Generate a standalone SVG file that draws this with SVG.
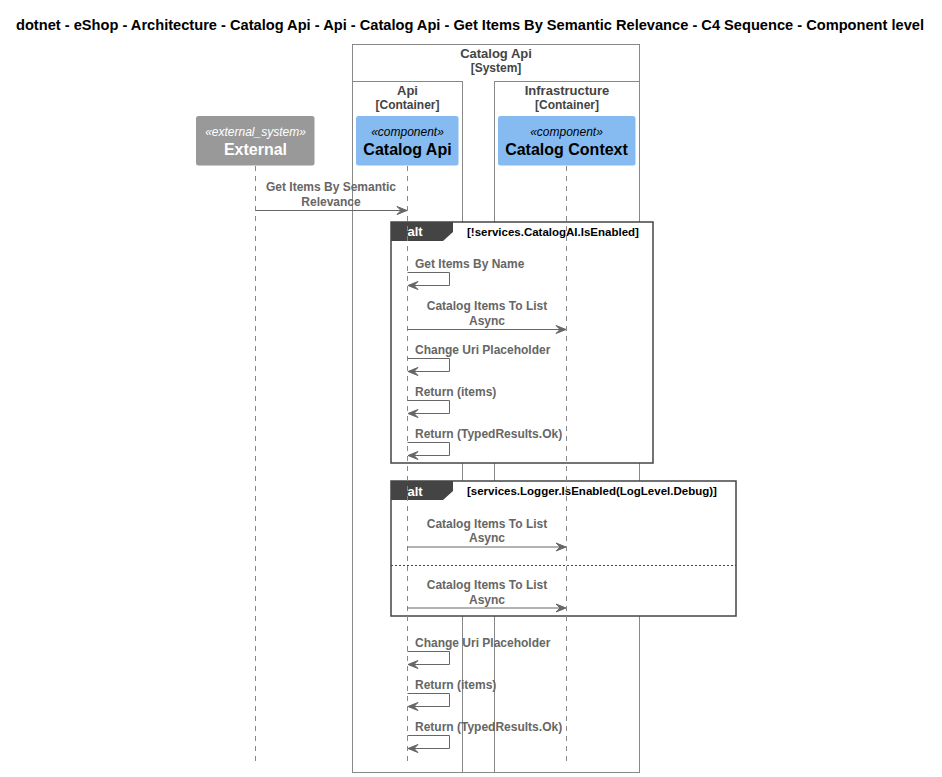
<svg xmlns="http://www.w3.org/2000/svg" width="942" height="777" viewBox="0 0 942 777">
  <style>
    text { font-family: "Liberation Sans", Arial, sans-serif; }
    .title { font-size: 14.5px; font-weight: bold; fill: #000; }
    .bnd { fill: none; stroke: #888; stroke-width: 1; }
    .bname { font-size: 13px; font-weight: bold; fill: #444; text-anchor: middle; }
    .btype { font-size: 12px; font-weight: bold; fill: #444; text-anchor: middle; }
    .stereo { font-size: 12px; font-style: italic; text-anchor: middle; }
    .pname { font-size: 16px; font-weight: bold; text-anchor: middle; }
    .life { stroke: #888; stroke-width: 1; stroke-dasharray: 5,5; fill: none; }
    .frame { fill: #fff; stroke: #444; stroke-width: 1.5; }
    .tab { fill: #444; }
    .alt { font-size: 13px; font-weight: bold; fill: #fff; }
    .cond { font-size: 11.5px; font-weight: bold; fill: #000; }
    .msg { stroke: #666; stroke-width: 1; fill: none; }
    .head { fill: #666; stroke: #666; stroke-width: 1; }
    .lbl { font-size: 12px; font-weight: bold; fill: #666; }
    .mid { text-anchor: middle; }
  </style>

  <text class="title" x="16" y="30" textLength="908" lengthAdjust="spacingAndGlyphs">dotnet - eShop - Architecture - Catalog Api - Api - Catalog Api - Get Items By Semantic Relevance - C4 Sequence - Component level</text>

  <!-- boundaries -->
  <g id="boundary-catalog-api">
    <rect class="bnd" x="352.5" y="44.5" width="287" height="728"/>
    <text class="bname" x="496" y="58">Catalog Api</text>
    <text class="btype" x="496" y="72">[System]</text>
  </g>
  <g id="boundary-api">
    <rect class="bnd" x="352.5" y="81.5" width="110" height="691"/>
    <text class="bname" x="407.5" y="95">Api</text>
    <text class="btype" x="407.5" y="109">[Container]</text>
  </g>
  <g id="boundary-infrastructure">
    <rect class="bnd" x="494.5" y="81.5" width="145" height="691"/>
    <text class="bname" x="567" y="95">Infrastructure</text>
    <text class="btype" x="567" y="109">[Container]</text>
  </g>

  <!-- combined fragments -->
  <g id="alt-catalog-ai">
    <rect class="frame" x="391" y="222" width="262" height="241"/>
    <polygon class="tab" points="391,222 453,222 453,232 443,241 391,241"/>
    <text class="alt" x="407.5" y="236">alt</text>
    <text class="cond" x="467" y="235.5">[!services.CatalogAI.IsEnabled]</text>
  </g>
  <g id="alt-logger-debug">
    <rect class="frame" x="391" y="481" width="345" height="135"/>
    <polygon class="tab" points="391,481 453,481 453,491 443,500 391,500"/>
    <text class="alt" x="407.5" y="496">alt</text>
    <text class="cond" x="467" y="495">[services.Logger.IsEnabled(LogLevel.Debug)]</text>
    <line x1="391" y1="565.5" x2="736" y2="565.5" stroke="#444" stroke-width="1" stroke-dasharray="2,2"/>
  </g>

  <!-- participants -->
  <g id="external">
    <line class="life" x1="255.5" y1="166" x2="255.5" y2="762"/>
    <rect x="196" y="116" width="118.5" height="49.5" rx="2.5" fill="#999999"/>
    <text class="stereo" x="255.5" y="136" fill="#fff">«external_system»</text>
    <text class="pname" x="255.5" y="155" fill="#fff">External</text>
  </g>
  <g id="catalog-api">
    <line class="life" x1="407.5" y1="166" x2="407.5" y2="762"/>
    <rect x="356" y="116" width="102.5" height="49.5" rx="2.5" fill="#85BBF0"/>
    <text class="stereo" x="407.5" y="136" fill="#000">«component»</text>
    <text class="pname" x="407.5" y="155" fill="#000">Catalog Api</text>
  </g>
  <g id="catalog-context">
    <line class="life" x1="566.5" y1="166" x2="566.5" y2="762"/>
    <rect x="498" y="116" width="137.5" height="49.5" rx="2.5" fill="#85BBF0"/>
    <text class="stereo" x="566.5" y="136" fill="#000">«component»</text>
    <text class="pname" x="566.5" y="155" fill="#000">Catalog Context</text>
  </g>

  <!-- messages -->
  <g id="connectors">
    <!-- External -> Catalog Api -->
    <text class="lbl mid" x="331" y="191">Get Items By Semantic</text>
    <text class="lbl mid" x="331" y="205.5">Relevance</text>
    <line class="msg" x1="255.5" y1="210.5" x2="406" y2="210.5"/>
    <polygon class="head" points="397,206.5 407,210.5 397,214.5 401,210.5"/>

    <!-- first alt -->
    <text class="lbl" x="415" y="268">Get Items By Name</text>
    <polyline class="msg" points="407.5,272.5 449.5,272.5 449.5,285.5 409,285.5"/>
    <polygon class="head" points="418,281.5 408,285.5 418,289.5 414,285.5"/>

    <text class="lbl mid" x="487" y="310">Catalog Items To List</text>
    <text class="lbl mid" x="487" y="324.5">Async</text>
    <line class="msg" x1="407.5" y1="329.5" x2="565" y2="329.5"/>
    <polygon class="head" points="556,325.5 566,329.5 556,333.5 560,329.5"/>

    <text class="lbl" x="415" y="354">Change Uri Placeholder</text>
    <polyline class="msg" points="407.5,358.5 449.5,358.5 449.5,371.5 409,371.5"/>
    <polygon class="head" points="418,367.5 408,371.5 418,375.5 414,371.5"/>

    <text class="lbl" x="415" y="396">Return (items)</text>
    <polyline class="msg" points="407.5,400.5 449.5,400.5 449.5,413.5 409,413.5"/>
    <polygon class="head" points="418,409.5 408,413.5 418,417.5 414,413.5"/>

    <text class="lbl" x="415" y="438">Return (TypedResults.Ok)</text>
    <polyline class="msg" points="407.5,442.5 449.5,442.5 449.5,455.5 409,455.5"/>
    <polygon class="head" points="418,451.5 408,455.5 418,459.5 414,455.5"/>

    <!-- second alt -->
    <text class="lbl mid" x="487" y="527.5">Catalog Items To List</text>
    <text class="lbl mid" x="487" y="542">Async</text>
    <line class="msg" x1="407.5" y1="547" x2="565" y2="547"/>
    <polygon class="head" points="556,543 566,547 556,551 560,547"/>

    <text class="lbl mid" x="487" y="589">Catalog Items To List</text>
    <text class="lbl mid" x="487" y="603.5">Async</text>
    <line class="msg" x1="407.5" y1="608" x2="565" y2="608"/>
    <polygon class="head" points="556,604 566,608 556,612 560,608"/>

    <!-- after fragments -->
    <text class="lbl" x="415" y="647">Change Uri Placeholder</text>
    <polyline class="msg" points="407.5,651.5 449.5,651.5 449.5,664.5 409,664.5"/>
    <polygon class="head" points="418,660.5 408,664.5 418,668.5 414,664.5"/>

    <text class="lbl" x="415" y="689">Return (items)</text>
    <polyline class="msg" points="407.5,693.5 449.5,693.5 449.5,706.5 409,706.5"/>
    <polygon class="head" points="418,702.5 408,706.5 418,710.5 414,706.5"/>

    <text class="lbl" x="415" y="731">Return (TypedResults.Ok)</text>
    <polyline class="msg" points="407.5,735.5 449.5,735.5 449.5,748.5 409,748.5"/>
    <polygon class="head" points="418,744.5 408,748.5 418,752.5 414,748.5"/>
  </g>
</svg>
